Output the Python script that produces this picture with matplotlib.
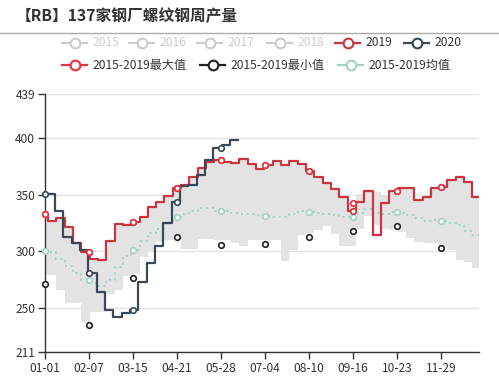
import numpy as np
import pandas as pd
import matplotlib
matplotlib.use('Agg')
import matplotlib.pyplot as plt
from matplotlib.lines import Line2D

plt.rcParams['font.family'] = ['Noto Sans CJK SC', 'DejaVu Sans']

# weekly values; first entry is the value carried in on 01-01
y2019 = [333, 327, 329.5, 321.5, 307, 299.5, 293, 292, 309, 324.5, 323.5, 326, 330.5,
         339, 344, 349, 355.5, 359, 365.5, 374, 378.5, 381, 379, 378,
         381.5, 377, 373, 376, 379.5, 376, 379.5, 377.5, 371, 365.5, 360, 355,
         348, 336, 344, 353, 314, 342.5, 353.5, 356, 356, 345.5, 348, 356, 356.5, 363, 366, 361, 348]
y_max = [333, 327, 329.5, 321.5, 307, 299.5, 293, 292, 309, 324.5, 323.5, 326, 330.5,
         339, 344, 349, 355.5, 359, 365.5, 374, 378.5, 381, 379, 378,
         381.5, 377, 373, 376, 379.5, 376, 379.5, 377.5, 371, 365.5, 360, 355,
         349, 343, 351, 354, 352, 350, 353.5, 356, 356, 345.5, 348, 356, 356.5, 363, 366, 361, 348]
y_low = [279, 279, 266, 254, 254, 237, 246.5, 246.5, 262, 266, 278, 280, 295,
         300, 308, 310, 310, 302, 302, 311, 311, 310, 310, 307,
         305, 310, 310, 310, 310, 291, 301, 314, 316, 318.5, 322, 315.5,
         305, 305, 320, 331.5, 323, 320, 318.5, 317, 312, 308, 307, 307, 304, 301, 292, 290.5, 285]
y_mean = [300.5, 299, 293, 287, 281, 275, 272, 269, 275, 286, 296, 301.5, 309,
          316, 320, 326, 330, 333, 336, 338, 338, 335.5, 336, 334,
          333, 333, 332.5, 331, 330, 330, 333, 336, 335, 334, 333, 332,
          330, 330, 334, 337, 334, 333, 335, 334, 332, 329, 327, 328, 327, 325, 323, 318, 314]
y2020 = [351, 351, 336, 313, 307, 301, 281, 264, 248, 241.5, 245.5, 248.5, 273, 289.5,
         305, 325, 343.5, 357.5, 359, 367.5, 381, 391, 393.5, 398]
min_marks = [271.5, 234.5, 276, 313, 306, 306.5, 312.5, 318, 322, 302.5]

# day-of-year where each weekly value starts
days_hist = np.concatenate([[0], 2.5 + 7 * np.arange(len(y2019) - 1)])
days_2020 = np.concatenate([[0], 1.5 + 7 * np.arange(len(y2020) - 1)])
end_hist = 365
end_2020 = days_2020[-1] + 7

dates = pd.date_range('2020-01-01', '2020-12-31')
tick_days = np.arange(0, 366, 37)
tick_labels = dates[tick_days].strftime('%m-%d')

c2019 = '#c9363f'
c2020 = '#3a4858'
cmax = '#e5323e'
cmin = '#222222'
cmean = '#a3d2c2'
cband = '#e3e3e3'
cgrey = '#cccccc'
ctext = '#333333'


def ext(days, vals, end):
    return np.append(days, end), np.append(vals, vals[-1])


def at(days, vals, t):
    vals = np.asarray(vals)
    return vals[np.searchsorted(days, t, side='right') - 1]


W, H = 499, 385
fig = plt.figure(figsize=(W / 100, H / 100), dpi=100)
ax = fig.add_axes([45 / W, 1 - 352 / H, 434 / W, 258 / H])

xb, yhi = ext(days_hist, y_max, end_hist)
_, ylo = ext(days_hist, y_low, end_hist)
ax.fill_between(xb, ylo, yhi, step='post', color=cband, lw=0, zorder=1)

xm, ym = ext(days_hist, y_mean, end_hist)
ax.plot(xm, ym, drawstyle='steps-post', color=cmean, lw=1.4, ls=(0, (1, 2)), zorder=2)

x19, y19 = ext(days_hist, y2019, end_hist)
ax.plot(x19, y19, drawstyle='steps-post', color=c2019, lw=1.6, zorder=3)

x20, y20 = ext(days_2020, y2020, end_2020)
ax.plot(x20, y20, drawstyle='steps-post', color=c2020, lw=1.6, zorder=4)

mk = dict(ls='none', marker='o', ms=4, mfc='white', mew=1.2, clip_on=False, zorder=6)
ax.plot(tick_days, at(days_hist, y_mean, tick_days), mec=cmean, **mk)
ax.plot(tick_days, min_marks, mec=cmin, **mk)
ax.plot(tick_days, at(days_hist, y2019, tick_days), mec=c2019, **mk)
ax.plot(tick_days, at(days_hist, y_max, tick_days), mec=cmax, **mk)
t20 = tick_days[tick_days < end_2020]
ax.plot(t20, at(days_2020, y2020, t20), mec=c2020, **mk)

ax.set_xlim(0, 365)
ax.set_ylim(211, 439)
ax.set_yticks([211, 250, 300, 350, 400, 439])
ax.set_xticks(tick_days)
ax.set_xticklabels(tick_labels)
ax.grid(axis='y', color='#e4e4e4', lw=1, zorder=0)
ax.set_axisbelow(True)
for s in ['top', 'right']:
    ax.spines[s].set_visible(False)
for s in ['left', 'bottom']:
    ax.spines[s].set_color(ctext)
    ax.spines[s].set_linewidth(1)
ax.tick_params(colors=ctext, labelsize=8.6, length=5, width=1, pad=2)

# title and separator
fig.text(16 / W, 1 - 16 / H, '【RB】137家钢厂螺纹钢周产量', fontsize=11.3,
         fontweight='bold', color=ctext, va='center', ha='left')
fig.add_artist(Line2D([0, 1], [1 - 33 / H, 1 - 33 / H], color='#aaaaaa', lw=1))

# legend
legend_items = [
    ('2015', cgrey, cgrey, 62, 43), ('2016', cgrey, cgrey, 129, 43),
    ('2017', cgrey, cgrey, 197, 43), ('2018', cgrey, cgrey, 267, 43),
    ('2019', c2019, ctext, 335, 43), ('2020', c2020, ctext, 404, 43),
    ('2015-2019最大值', cmax, ctext, 62, 65),
    ('2015-2019最小值', cmin, ctext, 200, 65),
    ('2015-2019均值', cmean, ctext, 338, 65),
]
for label, col, tcol, x0, y0 in legend_items:
    yy = 1 - y0 / H
    fig.add_artist(Line2D([x0 / W, (x0 + 25) / W], [yy, yy], color=col, lw=1.6))
    fig.add_artist(Line2D([(x0 + 12.5) / W], [yy], marker='o', ms=7, mfc='white',
                          mec=col, mew=1.5, ls='none'))
    fig.text((x0 + 30) / W, yy, label, fontsize=8.7, color=tcol, va='center', ha='left')

fig.savefig('out.png', dpi=100)
